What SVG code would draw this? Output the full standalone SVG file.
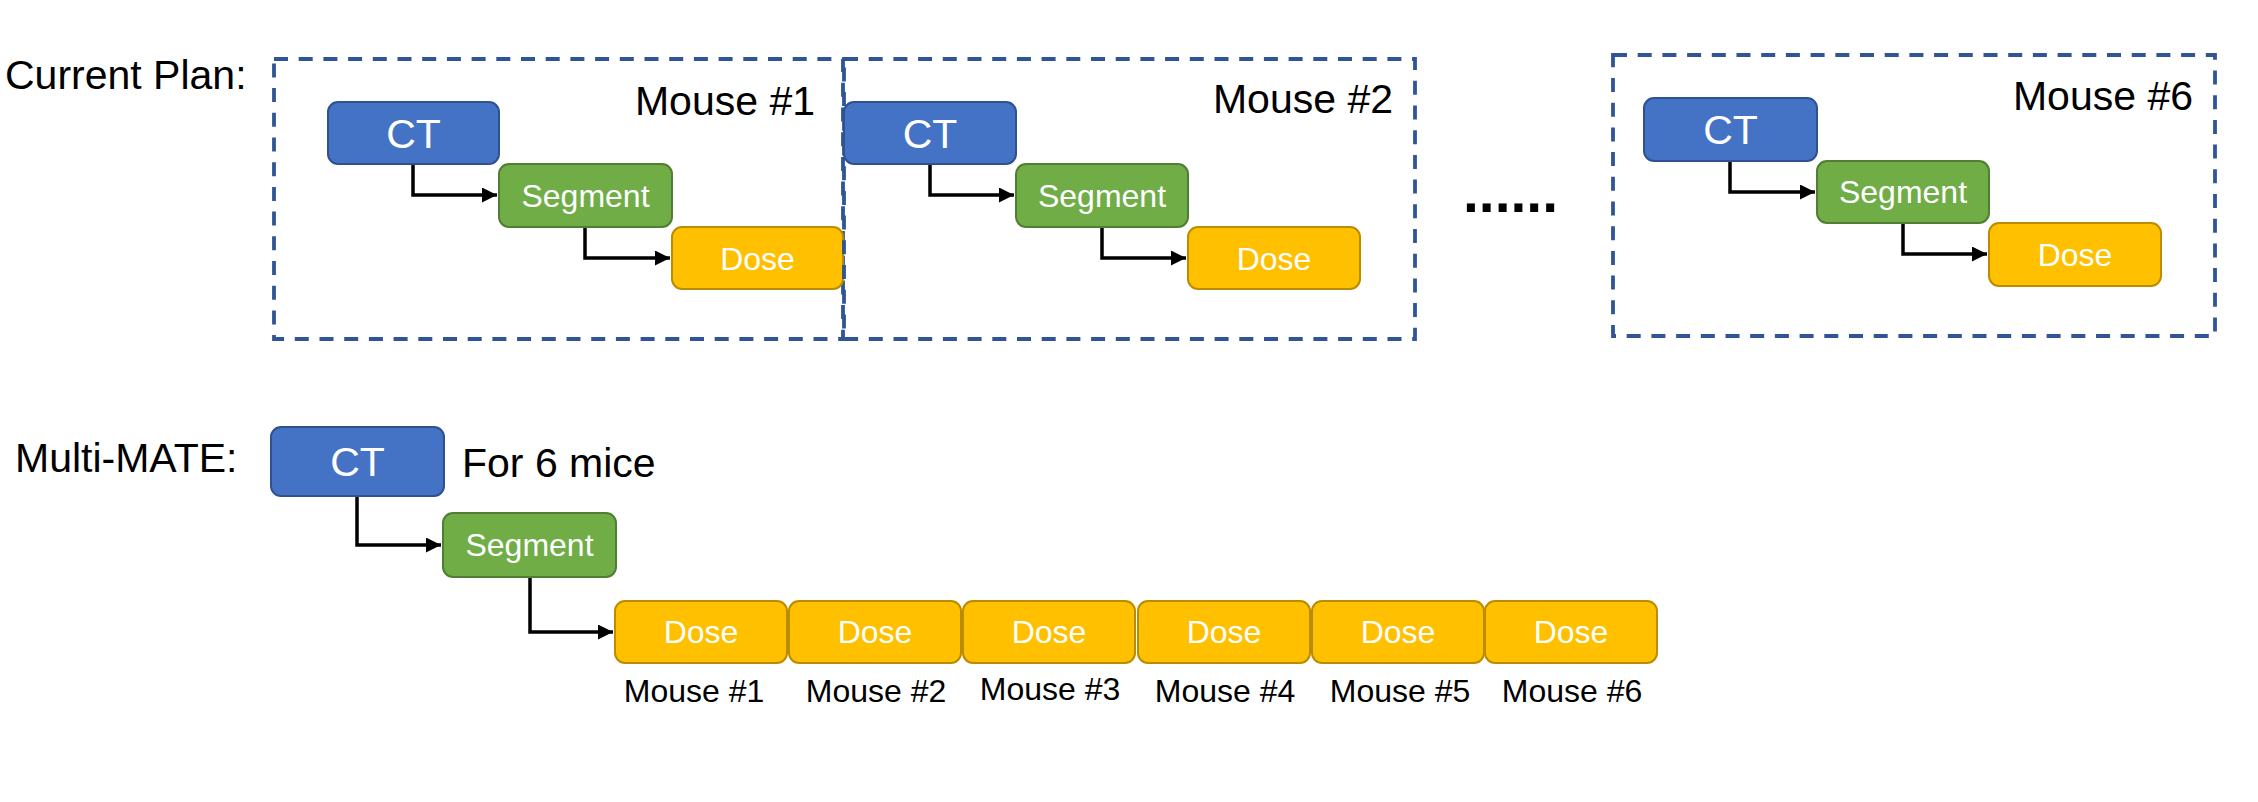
<svg xmlns="http://www.w3.org/2000/svg" width="2258" height="802" viewBox="0 0 2258 802">
<defs>
<style>
text{font-family:"Liberation Sans",Arial,Helvetica,sans-serif;}
.lbl{font-size:41px;fill:#000;}
.ml{font-size:32px;fill:#000;text-anchor:middle;}
.ct{fill:#4472C4;stroke:#2F528F;stroke-width:2;}
.seg{fill:#70AD47;stroke:#507E32;stroke-width:2;}
.dose{fill:#FFC000;stroke:#BC8C00;stroke-width:2;}
.wt{fill:#fff;text-anchor:middle;}
.t40{font-size:41px;}
.t32{font-size:32px;}
.dash{fill:none;stroke:#2F5597;stroke-width:3.8;stroke-dasharray:14 10.7;}
.conn{fill:none;stroke:#000;stroke-width:3.5;}
</style>
<marker id="arr" markerUnits="userSpaceOnUse" markerWidth="15" markerHeight="15" viewBox="0 0 15 15" refX="15" refY="7.5" orient="auto">
<path d="M0,0 L15,7.5 L0,15 Z" fill="#000"/>
</marker>
</defs>
<rect width="2258" height="802" fill="#fff"/>

<text class="lbl" x="5" y="89">Current Plan:</text>
<text class="lbl" x="15" y="472">Multi-MATE:</text>
<text class="lbl" x="462" y="477">For 6 mice</text>
<text x="1463" y="212" style="font-size:57px;font-weight:bold;fill:#000">......</text>

<g id="mouse1-box">
<rect class="dash" x="274" y="59" width="569" height="280"/>
<text class="lbl" x="815" y="115" text-anchor="end">Mouse #1</text>
</g>
<g id="m1-ct"><rect class="ct" x="328" y="102" width="171" height="62" rx="10"/><text class="wt t40" x="413.5" y="148">CT</text></g>
<g id="m1-seg"><rect class="seg" x="499" y="164" width="173" height="63" rx="10"/><text class="wt t32" x="585.5" y="207">Segment</text></g>
<g id="m1-dose"><rect class="dose" x="672" y="227" width="171" height="62" rx="10"/><text class="wt t32" x="757.5" y="270">Dose</text></g>

<g id="mouse2-box">
<rect class="dash" x="844" y="59" width="571" height="280"/>
<text class="lbl" x="1393" y="113" text-anchor="end">Mouse #2</text>
</g>
<g id="m2-ct"><rect class="ct" x="844" y="102" width="172" height="62" rx="10"/><text class="wt t40" x="930" y="148">CT</text></g>
<g id="m2-seg"><rect class="seg" x="1016" y="164" width="172" height="63" rx="10"/><text class="wt t32" x="1102" y="207">Segment</text></g>
<g id="m2-dose"><rect class="dose" x="1188" y="227" width="172" height="62" rx="10"/><text class="wt t32" x="1274" y="270">Dose</text></g>

<g id="mouse6-box">
<rect class="dash" x="1613" y="55" width="602" height="281"/>
<text class="lbl" x="2193" y="110" text-anchor="end">Mouse #6</text>
</g>
<g id="m6-ct"><rect class="ct" x="1644" y="98" width="173" height="63" rx="10"/><text class="wt t40" x="1730.5" y="144">CT</text></g>
<g id="m6-seg"><rect class="seg" x="1817" y="161" width="172" height="62" rx="10"/><text class="wt t32" x="1903" y="203">Segment</text></g>
<g id="m6-dose"><rect class="dose" x="1989" y="223" width="172" height="63" rx="10"/><text class="wt t32" x="2075" y="266">Dose</text></g>

<g id="mm-ct"><rect class="ct" x="271" y="427" width="173" height="69" rx="10"/><text class="wt t40" x="357.5" y="476">CT</text></g>
<g id="mm-seg"><rect class="seg" x="443" y="513" width="173" height="64" rx="10"/><text class="wt t32" x="529.5" y="556">Segment</text></g>
<g id="mm-dose1"><rect class="dose" x="615" y="601" width="172" height="62" rx="10"/><text class="wt t32" x="701" y="643">Dose</text><text class="ml" x="694" y="702">Mouse #1</text></g>
<g id="mm-dose2"><rect class="dose" x="789" y="601" width="172" height="62" rx="10"/><text class="wt t32" x="875" y="643">Dose</text><text class="ml" x="876" y="702">Mouse #2</text></g>
<g id="mm-dose3"><rect class="dose" x="963" y="601" width="172" height="62" rx="10"/><text class="wt t32" x="1049" y="643">Dose</text><text class="ml" x="1050" y="700">Mouse #3</text></g>
<g id="mm-dose4"><rect class="dose" x="1138" y="601" width="172" height="62" rx="10"/><text class="wt t32" x="1224" y="643">Dose</text><text class="ml" x="1225" y="702">Mouse #4</text></g>
<g id="mm-dose5"><rect class="dose" x="1312" y="601" width="172" height="62" rx="10"/><text class="wt t32" x="1398" y="643">Dose</text><text class="ml" x="1400" y="702">Mouse #5</text></g>
<g id="mm-dose6"><rect class="dose" x="1485" y="601" width="172" height="62" rx="10"/><text class="wt t32" x="1571" y="643">Dose</text><text class="ml" x="1572" y="702">Mouse #6</text></g>

<g id="connectors">
<path class="conn" d="M413,165 V195 H497" marker-end="url(#arr)"/>
<path class="conn" d="M585,228 V258 H670" marker-end="url(#arr)"/>
<path class="conn" d="M930,165 V195 H1014" marker-end="url(#arr)"/>
<path class="conn" d="M1102,228 V258 H1186" marker-end="url(#arr)"/>
<path class="conn" d="M1730,162 V192 H1815" marker-end="url(#arr)"/>
<path class="conn" d="M1903,224 V254 H1987" marker-end="url(#arr)"/>
<path class="conn" d="M357,497 V545 H441" marker-end="url(#arr)"/>
<path class="conn" d="M530,578 V632 H613" marker-end="url(#arr)"/>
</g>
</svg>
